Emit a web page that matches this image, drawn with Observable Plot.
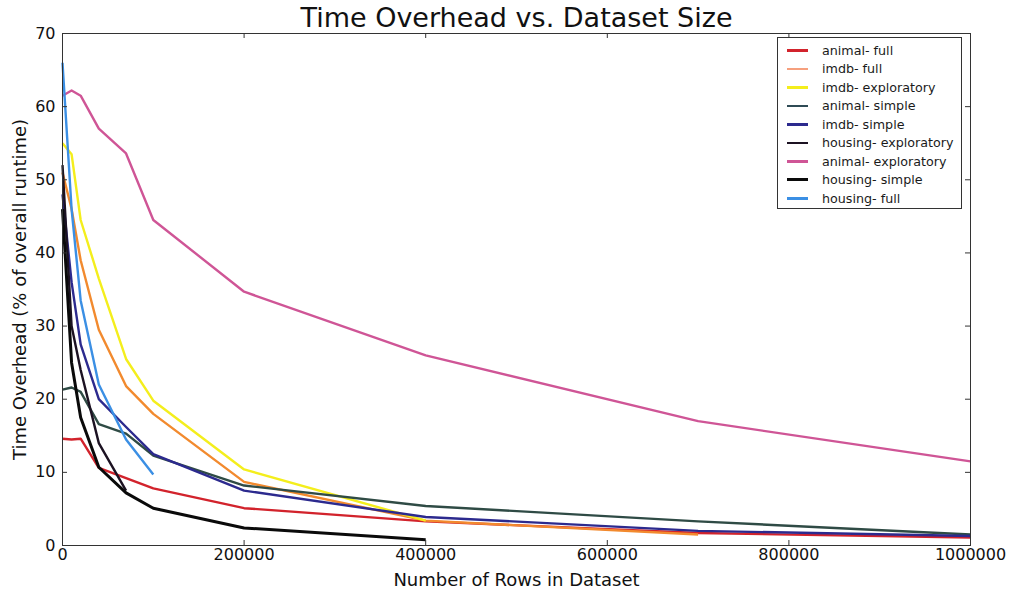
<!DOCTYPE html>
<html>
<head>
<meta charset="utf-8">
<script src="https://cdn.jsdelivr.net/npm/d3@7"></script>
<script src="https://cdn.jsdelivr.net/npm/@observablehq/plot@0.6"></script>
<style>
  body { margin: 0; background: #fff; font-family: "DejaVu Sans", sans-serif; }
  #chart { position: relative; width: 1013px; height: 592px; }
  #legend {
    position: absolute; left: 777px; top: 37px; width: 185px; height: 172px;
    border: 1px solid #333; background: #fff; box-sizing: border-box; padding-top: 3px;
  }
  .row { display: flex; align-items: center; height: 18.5px; font-size: 12.7px; color: #1a1a1a; white-space: nowrap; }
  .sw { width: 21px; margin-left: 9px; margin-right: 14px; }
</style>
</head>
<body>
<div id="chart"><div id="legend"></div></div>
<script>
// Dataset sizes (rows) at which each configuration was measured
const rows = [0, 10000, 20000, 40000, 70000, 100000, 200000, 400000, 700000, 1000000];

// Time overhead (% of overall runtime) per configuration
const animalFull         = [14.6, 14.5, 14.6, 10.6, 9.2, 7.8, 5.1, 3.3, 1.7, 1.1];
const imdbFull           = [51, 46, 39, 29.5, 21.8, 18, 8.7, 3.4, 1.5];
const imdbExploratory    = [55, 53.5, 44.5, 36.5, 25.5, 19.8, 10.4, 3.4];
const animalSimple       = [21.3, 21.6, 21, 16.6, 15.3, 12.3, 8.2, 5.4, 3.3, 1.5];
const imdbSimple         = [48, 36, 27.5, 20, 16.2, 12.5, 7.5, 3.9, 2.0, 1.3];
const housingExploratory = [52, 30, 24, 14, 7.5];
const animalExploratory  = [61.5, 62.2, 61.5, 57, 53.6, 44.5, 34.7, 26, 17, 11.5];
const housingSimple      = [46, 25, 17.5, 10.7, 7.2, 5.1, 2.4, 0.8];
const housingFull        = [66, 46, 33.5, 22, 14.5, 9.7];

const seriesNames = [
  "animal- full", "imdb- full", "imdb- exploratory", "animal- simple", "imdb- simple",
  "housing- exploratory", "animal- exploratory", "housing- simple", "housing- full"
];
const seriesValues = [
  animalFull, imdbFull, imdbExploratory, animalSimple, imdbSimple,
  housingExploratory, animalExploratory, housingSimple, housingFull
];
const seriesColors = [
  "#d2232c", "#f28a2e", "#f4ee1c", "#2f4b45", "#2c2a8e",
  "#1c1222", "#cf5596", "#0a0a0a", "#3b8fe4"
];
const legendColors = [
  "#d2232c", "#f6a07e", "#f4ee1c", "#2f4b55", "#2c2a8e",
  "#1c1222", "#cf5596", "#0a0a0a", "#3b8fe4"
];
const seriesWidths = [2.4, 2.4, 2.4, 2.4, 2.4, 2.4, 2.4, 3, 2.4];

const xTicks = [0, 200000, 400000, 600000, 800000, 1000000];
const yTicks = [0, 10, 20, 30, 40, 50, 60, 70];

const width = 1013, height = 592;
const margin = {top: 33, right: 43, bottom: 47, left: 62};
const innerH = height - margin.top - margin.bottom;
const innerW = width - margin.left - margin.right;
const tickLen = 5;

// Long-format table: one record per measurement
const table = seriesNames.flatMap((name, i) =>
  seriesValues[i].map((v, j) => ({series: name, rows: rows[j], overhead: v}))
);

const lineMarks = seriesNames.map((name, i) =>
  Plot.line(table.filter(d => d.series === name), {
    x: "rows", y: "overhead",
    stroke: seriesColors[i], strokeWidth: seriesWidths[i],
    strokeLinejoin: "round", strokeLinecap: "butt"
  })
);

const chart = Plot.plot({
  width, height,
  marginTop: margin.top, marginRight: margin.right,
  marginBottom: margin.bottom, marginLeft: margin.left,
  style: {fontFamily: "DejaVu Sans, sans-serif", background: "#fff", color: "#111"},
  x: {domain: [0, 1000000]},
  y: {domain: [0, 70]},
  marks: [
    ...lineMarks,
    Plot.frame({stroke: "#333", strokeWidth: 1}),
    // inward ticks on all four sides
    Plot.tickX(xTicks, {x: d => d, insetTop: innerH - tickLen, stroke: "#333"}),
    Plot.tickX(xTicks, {x: d => d, insetBottom: innerH - tickLen, stroke: "#333"}),
    Plot.tickY(yTicks, {y: d => d, insetRight: innerW - tickLen, stroke: "#333"}),
    Plot.tickY(yTicks, {y: d => d, insetLeft: innerW - tickLen, stroke: "#333"}),
    Plot.axisX(xTicks, {tickSize: 0, tickPadding: 3, tickFormat: d3.format("d"), fontSize: 16, label: null}),
    Plot.axisY(yTicks, {tickSize: 0, tickPadding: 7, fontSize: 16, label: null}),
    Plot.text(["Time Overhead vs. Dataset Size"], {
      frameAnchor: "top", text: d => d, dy: -7, lineAnchor: "bottom", fontSize: 27, fill: "#111"
    }),
    Plot.text(["Number of Rows in Dataset"], {
      frameAnchor: "bottom", text: d => d, dy: 40, lineAnchor: "bottom", fontSize: 18, fill: "#111"
    }),
    Plot.text(["Time Overhead (% of overall runtime)"], {
      frameAnchor: "left", text: d => d, dx: -42, rotate: -90, textAnchor: "middle",
      fontSize: 18, fill: "#111"
    })
  ]
});
document.getElementById("chart").prepend(chart);

// Legend box in the upper-right corner of the plot
const legend = d3.select("#legend");
seriesNames.forEach((name, i) => {
  const row = legend.append("div").attr("class", "row");
  row.append("div").attr("class", "sw")
    .style("height", (i === 7 ? 3 : 2.5) + "px")
    .style("background", legendColors[i]);
  row.append("span").text(name);
});
</script>
</body>
</html>
